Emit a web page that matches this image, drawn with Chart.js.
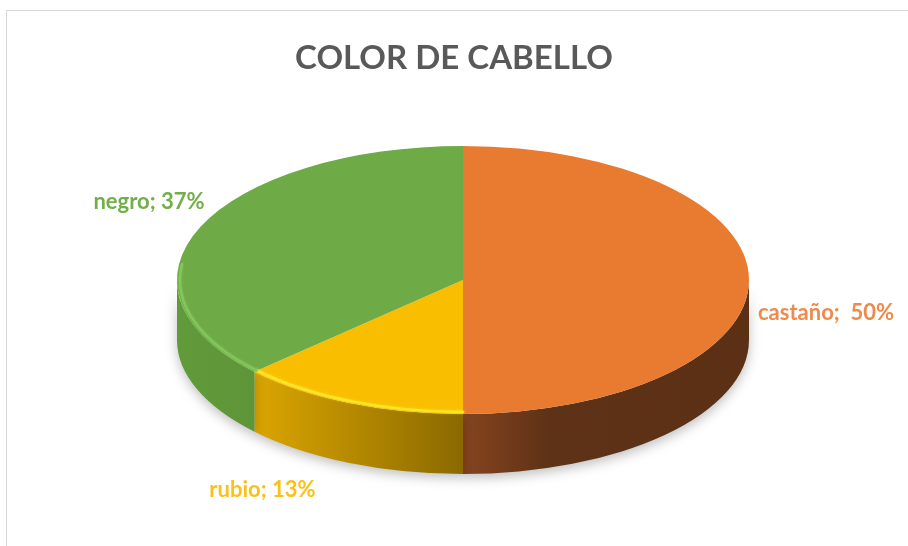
<!DOCTYPE html>
<html>
<head>
<meta charset="utf-8">
<script src="https://cdn.jsdelivr.net/npm/chart.js@4.4.1/dist/chart.umd.min.js"></script>
<style>
  html, body { margin: 0; padding: 0; background: #fff; }
  #wrap { position: relative; width: 908px; height: 546px; overflow: hidden; }
  #frame { position: absolute; left: 6px; top: 10px; width: 910px; height: 560px; border: 1px solid #d9d9d9; box-sizing: border-box; }
  #c { position: absolute; left: 0; top: 0; }
</style>
</head>
<body>
<div id="wrap">
  <div id="frame"></div>
  <canvas id="c" width="908" height="546"></canvas>
</div>
<script>
// data
const categories = ['castaño', 'rubio', 'negro'];
const values = [50, 13, 37];
const separators = [';  ', '; ', '; '];

// look
const topColors = ['#e97b31', '#f9be00', '#6eaa46'];
const sideStops = [
  [[0, '#86441f'], [0.3, '#5e3216'], [1, '#5c3015']],
  [[0, '#dca600'], [1, '#8a6900']],
  [[0, '#619a3b'], [1, '#5e9538']]
];
const rimColors = [null, 'rgba(255,232,40,0.9)', 'rgba(132,200,92,0.9)'];
const labelColors = ['#ef8a4c', '#fcc01a', '#72ae4a'];
const labelFont = 'bold 22px Lato';

// where the tilted pie sits on the page
const tilt = { cx: 463, cy: 280, rx: 286, ry: 134, depth: 60 };
const labelNudge = [
  { dx: 9, dy: 33, align: 'left' },     // castaño
  { dx: -87, dy: 27, align: 'center' }, // rubio
  { dx: 4, dy: -25, align: 'right' }    // negro
];

const total = values.reduce((a, b) => a + b, 0);

// pieces of an arc that lie inside [lo, hi] (canvas angles)
function partsIn(p, lo, hi) {
  const out = [];
  [0, 2 * Math.PI, -2 * Math.PI].forEach(shift => {
    const a1 = Math.max(p.startAngle, shift + lo);
    const a2 = Math.min(p.endAngle, shift + hi);
    if (a2 > a1) out.push([a1, a2]);
  });
  return out;
}

const pie3d = {
  id: 'pie3d',
  beforeDatasetsDraw(chart) {
    const ctx = chart.ctx;
    const arcs = chart.getDatasetMeta(0).data;
    const { cx, cy, rx, ry, depth } = tilt;

    // side walls of the front half
    arcs.forEach((arc, i) => {
      const p = arc.getProps(['startAngle', 'endAngle'], true);
      partsIn(p, 0, Math.PI).forEach(([a1, a2]) => {
        const xA = cx + rx * Math.cos(a1), xB = cx + rx * Math.cos(a2);
        const g = ctx.createLinearGradient(Math.min(xA, xB), 0, Math.max(xA, xB), 0);
        sideStops[i].forEach(s => g.addColorStop(s[0], s[1]));
        ctx.save();
        ctx.shadowColor = 'rgba(0,0,0,0.25)';
        ctx.shadowBlur = 12;
        ctx.shadowOffsetY = 4;
        ctx.beginPath();
        ctx.ellipse(cx, cy, rx, ry, 0, a1, a2);
        ctx.lineTo(cx + rx * Math.cos(a2), cy + ry * Math.sin(a2) + depth);
        ctx.ellipse(cx, cy + depth, rx, ry, 0, a2, a1, true);
        ctx.closePath();
        ctx.fillStyle = g;
        ctx.fill();
        ctx.restore();
      });
    });

    // squash the library's round pie into the tilted top face
    const a0 = arcs[0];
    const r = a0.outerRadius;
    ctx.save();
    ctx.translate(cx, cy);
    ctx.scale(rx / r, ry / r);
    ctx.translate(-a0.x, -a0.y);
  },
  afterDatasetsDraw(chart) {
    const ctx = chart.ctx;
    ctx.restore();
    const arcs = chart.getDatasetMeta(0).data;
    const { cx, cy, rx, ry } = tilt;
    // soft bevel along the front rim of the top face
    arcs.forEach((arc, i) => {
      if (!rimColors[i]) return;
      const p = arc.getProps(['startAngle', 'endAngle'], true);
      partsIn(p, 0, Math.PI + 0.12).forEach(([a1, a2]) => {
        ctx.save();
        ctx.strokeStyle = rimColors[i];
        ctx.lineWidth = 2.5;
        ctx.lineCap = 'round';
        ctx.shadowColor = rimColors[i];
        ctx.shadowBlur = 3;
        ctx.beginPath();
        ctx.ellipse(cx, cy, rx - 3, ry - 2, 0, a1, a2);
        ctx.stroke();
        ctx.restore();
      });
    });
  },
  afterDraw(chart) {
    const ctx = chart.ctx;
    const arcs = chart.getDatasetMeta(0).data;
    const { cx, cy, rx, ry, depth } = tilt;
    ctx.save();
    ctx.font = labelFont;
    ctx.textBaseline = 'middle';
    arcs.forEach((arc, i) => {
      const p = arc.getProps(['startAngle', 'endAngle'], true);
      const mid = (p.startAngle + p.endAngle) / 2;
      const s = Math.sin(mid);
      const x = cx + rx * Math.cos(mid) + labelNudge[i].dx;
      const y = cy + ry * s + (s > 0.01 ? depth : 0) + labelNudge[i].dy;
      const pct = Math.round(values[i] / total * 100);
      ctx.textAlign = labelNudge[i].align;
      ctx.fillStyle = labelColors[i];
      ctx.fillText(categories[i] + separators[i] + pct + '%', x, y);
    });
    ctx.restore();
  }
};

new Chart(document.getElementById('c'), {
  type: 'pie',
  data: {
    labels: categories,
    datasets: [{
      data: values,
      backgroundColor: topColors,
      borderWidth: 0,
      clip: false
    }]
  },
  options: {
    responsive: false,
    animation: false,
    events: [],
    layout: { padding: { top: 10, bottom: 10, left: 10, right: 10 } },
    plugins: {
      legend: { display: false },
      tooltip: { enabled: false },
      title: {
        display: true,
        text: 'COLOR DE CABELLO',
        color: '#595959',
        font: { family: 'Lato', size: 33, weight: 'bold' },
        padding: { top: 29, bottom: 20 }
      }
    }
  },
  plugins: [pie3d]
});
</script>
</body>
</html>
